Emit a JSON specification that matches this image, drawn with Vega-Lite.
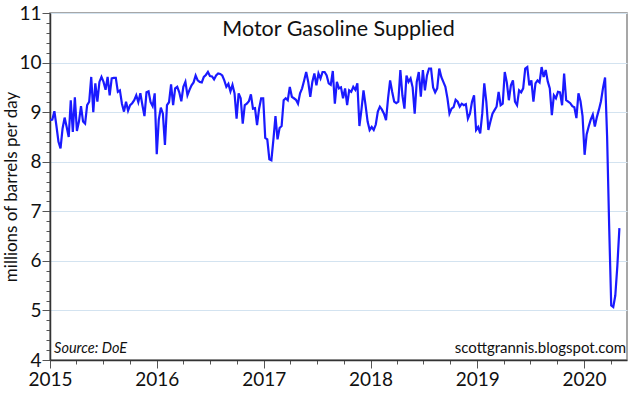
{
"$schema": "https://vega.github.io/schema/vega-lite/v6.json",
"width": 577,
"height": 347,
"autosize": {"type": "none"},
"padding": {"left": 50, "top": 13, "right": 13, "bottom": 35},
"background": "white",
"config": {
  "view": {"stroke": "#8a8a8a", "strokeWidth": 1.5},
  "font": "Lato"
},
"title": {"text": "Motor Gasoline Supplied", "fontSize": 21.5, "fontWeight": "normal", "font": "Lato", "color": "#111111", "offset": -36, "anchor": "middle", "frame": "group"},
"resolve": {"axis": {"x": "independent", "y": "independent"}},
"layer": [
{
"data": {"values": [
{"d":"2015-01-02","v":8.84},{"d":"2015-01-09","v":8.85},{"d":"2015-01-16","v":9.02},{"d":"2015-01-23","v":8.72},{"d":"2015-01-30","v":8.40},
{"d":"2015-02-06","v":8.27},{"d":"2015-02-13","v":8.67},{"d":"2015-02-20","v":8.89},{"d":"2015-02-27","v":8.70},
{"d":"2015-03-06","v":8.50},{"d":"2015-03-13","v":9.24},{"d":"2015-03-20","v":8.60},{"d":"2015-03-27","v":9.30},
{"d":"2015-04-03","v":8.62},{"d":"2015-04-10","v":8.81},{"d":"2015-04-17","v":9.12},{"d":"2015-04-24","v":8.81},
{"d":"2015-05-01","v":8.77},{"d":"2015-05-08","v":9.14},{"d":"2015-05-15","v":9.21},{"d":"2015-05-22","v":9.71},{"d":"2015-05-29","v":9.00},
{"d":"2015-06-05","v":9.58},{"d":"2015-06-12","v":9.21},{"d":"2015-06-19","v":9.61},{"d":"2015-06-26","v":9.71},
{"d":"2015-07-03","v":9.61},{"d":"2015-07-10","v":9.45},{"d":"2015-07-17","v":9.71},{"d":"2015-07-24","v":9.34},{"d":"2015-07-31","v":9.68},
{"d":"2015-08-07","v":9.69},{"d":"2015-08-14","v":9.69},{"d":"2015-08-21","v":9.41},{"d":"2015-08-28","v":9.44},
{"d":"2015-09-04","v":9.17},{"d":"2015-09-11","v":9.01},{"d":"2015-09-18","v":9.21},{"d":"2015-09-25","v":9.03},
{"d":"2015-10-02","v":9.14},{"d":"2015-10-09","v":9.18},{"d":"2015-10-16","v":9.24},{"d":"2015-10-23","v":9.34},{"d":"2015-10-30","v":9.20},
{"d":"2015-11-06","v":9.38},{"d":"2015-11-13","v":9.14},{"d":"2015-11-20","v":8.92},{"d":"2015-11-27","v":9.40},
{"d":"2015-12-04","v":9.42},{"d":"2015-12-11","v":9.20},{"d":"2015-12-18","v":9.12},{"d":"2015-12-25","v":9.38},
{"d":"2016-01-01","v":8.15},{"d":"2016-01-08","v":8.85},{"d":"2016-01-15","v":9.09},{"d":"2016-01-22","v":8.97},{"d":"2016-01-29","v":8.34},
{"d":"2016-02-05","v":9.14},{"d":"2016-02-12","v":9.20},{"d":"2016-02-19","v":9.56},{"d":"2016-02-26","v":9.14},
{"d":"2016-03-04","v":9.48},{"d":"2016-03-11","v":9.51},{"d":"2016-03-18","v":9.40},{"d":"2016-03-25","v":9.22},
{"d":"2016-04-01","v":9.51},{"d":"2016-04-08","v":9.61},{"d":"2016-04-15","v":9.34},{"d":"2016-04-22","v":9.45},{"d":"2016-04-29","v":9.54},
{"d":"2016-05-06","v":9.60},{"d":"2016-05-13","v":9.74},{"d":"2016-05-20","v":9.64},{"d":"2016-05-27","v":9.61},
{"d":"2016-06-03","v":9.60},{"d":"2016-06-10","v":9.71},{"d":"2016-06-17","v":9.75},{"d":"2016-06-24","v":9.81},
{"d":"2016-07-01","v":9.73},{"d":"2016-07-08","v":9.72},{"d":"2016-07-15","v":9.66},{"d":"2016-07-22","v":9.74},{"d":"2016-07-29","v":9.78},
{"d":"2016-08-05","v":9.77},{"d":"2016-08-12","v":9.74},{"d":"2016-08-19","v":9.64},{"d":"2016-08-26","v":9.51},
{"d":"2016-09-02","v":9.57},{"d":"2016-09-09","v":9.42},{"d":"2016-09-16","v":9.55},{"d":"2016-09-23","v":9.38},{"d":"2016-09-30","v":8.87},
{"d":"2016-10-07","v":9.38},{"d":"2016-10-14","v":9.28},{"d":"2016-10-21","v":8.77},{"d":"2016-10-28","v":9.14},
{"d":"2016-11-04","v":9.17},{"d":"2016-11-11","v":9.22},{"d":"2016-11-18","v":9.36},{"d":"2016-11-25","v":9.07},
{"d":"2016-12-02","v":9.08},{"d":"2016-12-09","v":8.74},{"d":"2016-12-16","v":9.07},{"d":"2016-12-23","v":9.28},{"d":"2016-12-30","v":9.28},
{"d":"2017-01-06","v":8.48},{"d":"2017-01-13","v":8.45},{"d":"2017-01-20","v":8.05},{"d":"2017-01-27","v":8.03},
{"d":"2017-02-03","v":8.45},{"d":"2017-02-10","v":8.92},{"d":"2017-02-17","v":8.45},{"d":"2017-02-24","v":8.68},
{"d":"2017-03-03","v":8.72},{"d":"2017-03-10","v":9.24},{"d":"2017-03-17","v":9.28},{"d":"2017-03-24","v":9.24},{"d":"2017-03-31","v":9.51},
{"d":"2017-04-07","v":9.31},{"d":"2017-04-14","v":9.28},{"d":"2017-04-21","v":9.25},{"d":"2017-04-28","v":9.17},
{"d":"2017-05-05","v":9.38},{"d":"2017-05-12","v":9.48},{"d":"2017-05-19","v":9.64},{"d":"2017-05-26","v":9.81},
{"d":"2017-06-02","v":9.61},{"d":"2017-06-09","v":9.31},{"d":"2017-06-16","v":9.61},{"d":"2017-06-23","v":9.78},{"d":"2017-06-30","v":9.54},
{"d":"2017-07-07","v":9.78},{"d":"2017-07-14","v":9.68},{"d":"2017-07-21","v":9.81},{"d":"2017-07-28","v":9.81},
{"d":"2017-08-04","v":9.74},{"d":"2017-08-11","v":9.58},{"d":"2017-08-18","v":9.55},{"d":"2017-08-25","v":9.83},
{"d":"2017-09-01","v":9.17},{"d":"2017-09-08","v":9.61},{"d":"2017-09-15","v":9.48},{"d":"2017-09-22","v":9.50},{"d":"2017-09-29","v":9.28},
{"d":"2017-10-06","v":9.48},{"d":"2017-10-13","v":9.14},{"d":"2017-10-20","v":9.44},{"d":"2017-10-27","v":9.41},
{"d":"2017-11-03","v":9.51},{"d":"2017-11-10","v":9.45},{"d":"2017-11-17","v":9.58},{"d":"2017-11-24","v":8.72},
{"d":"2017-12-01","v":9.05},{"d":"2017-12-08","v":9.44},{"d":"2017-12-15","v":9.14},{"d":"2017-12-22","v":8.81},{"d":"2017-12-29","v":8.64},
{"d":"2018-01-05","v":8.70},{"d":"2018-01-12","v":8.64},{"d":"2018-01-19","v":8.75},{"d":"2018-01-26","v":9.01},
{"d":"2018-02-02","v":9.11},{"d":"2018-02-09","v":9.05},{"d":"2018-02-16","v":8.97},{"d":"2018-02-23","v":8.84},
{"d":"2018-03-02","v":9.28},{"d":"2018-03-09","v":9.64},{"d":"2018-03-16","v":9.41},{"d":"2018-03-23","v":9.21},{"d":"2018-03-30","v":9.18},
{"d":"2018-04-06","v":9.21},{"d":"2018-04-13","v":9.85},{"d":"2018-04-20","v":9.34},{"d":"2018-04-27","v":9.07},
{"d":"2018-05-04","v":9.74},{"d":"2018-05-11","v":9.61},{"d":"2018-05-18","v":9.68},{"d":"2018-05-25","v":9.50},
{"d":"2018-06-01","v":8.97},{"d":"2018-06-08","v":9.61},{"d":"2018-06-15","v":9.81},{"d":"2018-06-22","v":9.31},{"d":"2018-06-29","v":9.85},
{"d":"2018-07-06","v":9.44},{"d":"2018-07-13","v":9.74},{"d":"2018-07-20","v":9.88},{"d":"2018-07-27","v":9.88},
{"d":"2018-08-03","v":9.50},{"d":"2018-08-10","v":9.40},{"d":"2018-08-17","v":9.48},{"d":"2018-08-24","v":9.88},{"d":"2018-08-31","v":9.71},
{"d":"2018-09-07","v":9.61},{"d":"2018-09-14","v":9.51},{"d":"2018-09-21","v":9.28},{"d":"2018-09-28","v":8.97},
{"d":"2018-10-05","v":9.07},{"d":"2018-10-12","v":9.10},{"d":"2018-10-19","v":9.25},{"d":"2018-10-26","v":9.21},
{"d":"2018-11-02","v":9.11},{"d":"2018-11-09","v":9.17},{"d":"2018-11-16","v":9.14},{"d":"2018-11-23","v":9.16},{"d":"2018-11-30","v":8.87},
{"d":"2018-12-07","v":8.97},{"d":"2018-12-14","v":9.21},{"d":"2018-12-21","v":9.34},{"d":"2018-12-28","v":8.64},
{"d":"2019-01-04","v":8.70},{"d":"2019-01-11","v":8.57},{"d":"2019-01-18","v":8.97},{"d":"2019-01-25","v":9.58},
{"d":"2019-02-01","v":9.21},{"d":"2019-02-08","v":8.64},{"d":"2019-02-15","v":8.81},{"d":"2019-02-22","v":8.97},
{"d":"2019-03-01","v":9.04},{"d":"2019-03-08","v":9.11},{"d":"2019-03-15","v":9.41},{"d":"2019-03-22","v":9.14},{"d":"2019-03-29","v":9.17},
{"d":"2019-04-05","v":9.81},{"d":"2019-04-12","v":9.60},{"d":"2019-04-19","v":9.24},{"d":"2019-04-26","v":9.54},
{"d":"2019-05-03","v":9.64},{"d":"2019-05-10","v":9.21},{"d":"2019-05-17","v":9.14},{"d":"2019-05-24","v":9.44},{"d":"2019-05-31","v":9.40},
{"d":"2019-06-07","v":9.48},{"d":"2019-06-14","v":9.88},{"d":"2019-06-21","v":9.91},{"d":"2019-06-28","v":9.54},
{"d":"2019-07-05","v":9.64},{"d":"2019-07-12","v":9.21},{"d":"2019-07-19","v":9.58},{"d":"2019-07-26","v":9.64},
{"d":"2019-08-02","v":9.60},{"d":"2019-08-09","v":9.91},{"d":"2019-08-16","v":9.71},{"d":"2019-08-23","v":9.85},{"d":"2019-08-30","v":9.62},
{"d":"2019-09-06","v":9.48},{"d":"2019-09-13","v":8.94},{"d":"2019-09-20","v":9.34},{"d":"2019-09-27","v":9.28},
{"d":"2019-10-04","v":9.41},{"d":"2019-10-11","v":9.40},{"d":"2019-10-18","v":9.14},{"d":"2019-10-25","v":9.78},
{"d":"2019-11-01","v":9.24},{"d":"2019-11-08","v":9.21},{"d":"2019-11-15","v":9.18},{"d":"2019-11-22","v":9.12},{"d":"2019-11-29","v":9.10},
{"d":"2019-12-06","v":8.88},{"d":"2019-12-13","v":9.38},{"d":"2019-12-20","v":9.22},{"d":"2019-12-27","v":8.92},
{"d":"2020-01-03","v":8.14},{"d":"2020-01-10","v":8.55},{"d":"2020-01-17","v":8.71},{"d":"2020-01-24","v":8.85},{"d":"2020-01-31","v":8.95},
{"d":"2020-02-07","v":8.71},{"d":"2020-02-14","v":8.90},{"d":"2020-02-21","v":9.05},{"d":"2020-02-28","v":9.22},
{"d":"2020-03-06","v":9.49},{"d":"2020-03-13","v":9.70},{"d":"2020-03-20","v":8.50},{"d":"2020-03-27","v":6.70},
{"d":"2020-04-03","v":5.10},{"d":"2020-04-10","v":5.07},{"d":"2020-04-17","v":5.30},{"d":"2020-04-24","v":5.90},
{"d":"2020-05-01","v":6.66}
]},
"mark": {"type": "line", "color": "#1a1aff", "strokeWidth": 2.2},
"encoding": {
  "x": {"field": "d", "type": "temporal",
    "scale": {"type": "utc", "domain": [{"year": 2015, "month": 1, "date": 1, "utc": true}, {"year": 2020, "month": 5, "date": 27, "utc": true}]},
    "axis": {"title": null, "grid": false, "tickCount": {"interval": "month", "step": 3},
      "labelExpr": "utcmonth(datum.value) == 0 ? utcFormat(datum.value, '%Y') : ''",
      "tickSize": {"condition": {"test": "utcmonth(datum.value) == 0", "value": 8}, "value": 4},
      "labelOverlap": false, "labelFlush": false, "labelFontSize": 19, "labelColor": "#111111", "labelPadding": 2,
      "domainColor": "#333333", "domainWidth": 1.5, "tickColor": "#555555", "tickWidth": 1}},
  "y": {"field": "v", "type": "quantitative",
    "scale": {"domain": [4, 11], "nice": false, "zero": false},
    "axis": {"title": "millions of barrels per day", "titleFontSize": 17, "titleFontWeight": "normal", "titleColor": "#111111", "titleX": -34, "titleBaseline": "alphabetic",
      "values": [4,4.2,4.4,4.6,4.8,5,5.2,5.4,5.6,5.8,6,6.2,6.4,6.6,6.8,7,7.2,7.4,7.6,7.8,8,8.2,8.4,8.6,8.8,9,9.2,9.4,9.6,9.8,10,10.2,10.4,10.6,10.8,11],
      "labelExpr": "abs(datum.value - round(datum.value)) < 0.01 ? format(datum.value, 'd') : ''",
      "tickSize": {"condition": {"test": "abs(datum.value - round(datum.value)) < 0.01", "value": 8}, "value": 4},
      "grid": true, "gridColor": "#d3e3f0", "gridWidth": 1,
      "gridOpacity": {"condition": {"test": "abs(datum.value - round(datum.value)) < 0.01", "value": 1}, "value": 0},
      "labelOverlap": false, "labelFontSize": 19, "labelColor": "#111111", "labelPadding": 1,
      "domainColor": "#333333", "domainWidth": 1.5, "tickColor": "#555555", "tickWidth": 1}}
}
},
{
"data": {"values": [{"t": "Source: DoE"}]},
"mark": {"type": "text", "align": "left", "baseline": "middle", "fontStyle": "italic", "fontSize": 14.5, "color": "#111111", "font": "Lato"},
"encoding": {
  "x": {"datum": {"year": 2015, "month": 1, "date": 15, "utc": true}, "type": "temporal", "axis": null},
  "y": {"datum": 4.22, "type": "quantitative", "axis": null},
  "text": {"field": "t"}
}
},
{
"data": {"values": [{"t": "scottgrannis.blogspot.com"}]},
"mark": {"type": "text", "align": "right", "baseline": "middle", "fontSize": 15, "color": "#111111", "font": "Lato"},
"encoding": {
  "x": {"datum": {"year": 2020, "month": 5, "date": 24, "utc": true}, "type": "temporal", "axis": null},
  "y": {"datum": 4.25, "type": "quantitative", "axis": null},
  "text": {"field": "t"}
}
}
]
}
